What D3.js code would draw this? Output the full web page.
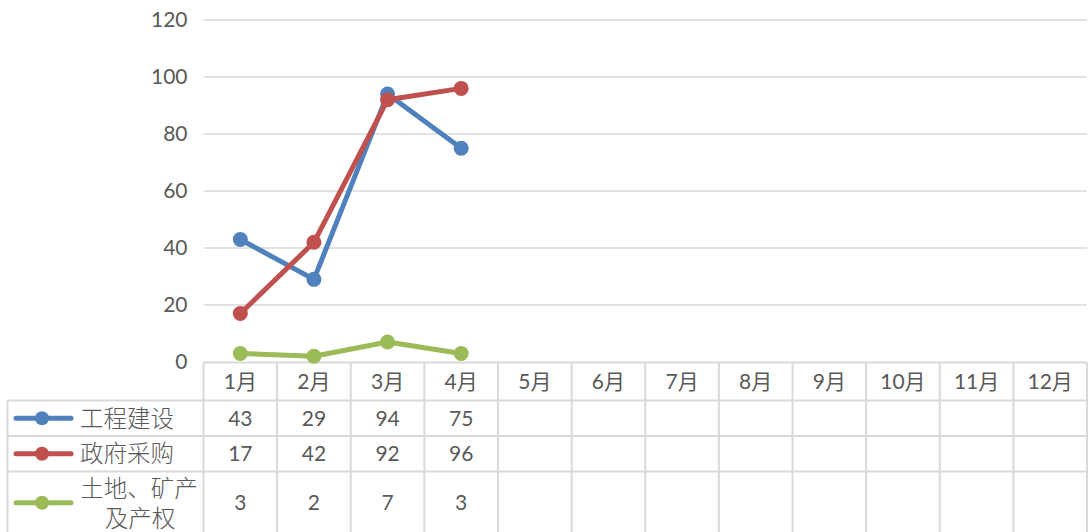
<!DOCTYPE html>
<html>
<head>
<meta charset="utf-8">
<script src="https://cdn.jsdelivr.net/npm/d3@7"></script>
<style>
  body { margin: 0; background: #fff; }
  svg text { font-family: Lato, "Noto Sans CJK SC", sans-serif; fill: #595959; }
</style>
</head>
<body>
<div id="chart"></div>
<script>
// Chart data
const months = ['1月', '2月', '3月', '4月', '5月', '6月', '7月', '8月', '9月', '10月', '11月', '12月'];
const seriesNames = ['工程建设', '政府采购', '土地、矿产及产权'];
const engineering = [43, 29, 94, 75];
const procurement = [17, 42, 92, 96];
const landMining = [3, 2, 7, 3];
const yTicks = [0, 20, 40, 60, 80, 100, 120];

const seriesColors = ['#4f81bd', '#c0504d', '#9bbb59'];
const seriesValues = [engineering, procurement, landMining];

const width = 1090, height = 532;
const plotLeft = 203.5, plotRight = 1087, plotTop = 20, plotBottom = 362;

const svg = d3.select('#chart')
    .append('svg')
    .attr('width', width)
    .attr('height', height);

// Scales
const xScale = d3.scaleBand()
    .domain(months)
    .range([plotLeft, plotRight])
    .padding(0);

const yScale = d3.scaleLinear()
    .domain([0, 120])
    .range([plotBottom, plotTop]);

// Gridlines
svg.append('g')
    .selectAll('line')
    .data(yTicks.filter(d => d > 0))
    .enter()
    .append('line')
    .attr('x1', plotLeft)
    .attr('x2', plotRight)
    .attr('y1', d => yScale(d))
    .attr('y2', d => yScale(d))
    .attr('stroke', '#d9d9d9')
    .attr('stroke-width', 1.5);

// Y axis labels
const yAxis = svg.append('g')
    .attr('transform', `translate(${plotLeft}, 0)`)
    .call(d3.axisLeft(yScale).tickValues(yTicks).tickSize(0).tickPadding(16));
yAxis.select('.domain').remove();
yAxis.selectAll('text')
    .style('font-size', '21px')
    .style('font-family', 'Lato, sans-serif')
    .attr('fill', '#595959');

// Data table
const rowTops = [362.5, 400.5, 436, 471.5];
const tableLeft = 7.5;
const gridColor = '#d9d9d9';
const table = svg.append('g');

// horizontal lines
rowTops.forEach((y, i) => {
    table.append('line')
        .attr('x1', i === 0 ? plotLeft : tableLeft)
        .attr('x2', plotRight)
        .attr('y1', y).attr('y2', y)
        .attr('stroke', gridColor)
        .attr('stroke-width', 2);
});

// vertical lines
const colEdges = months.map(m => xScale(m)).concat([plotRight]);
colEdges.forEach(x => {
    table.append('line')
        .attr('x1', x).attr('x2', x)
        .attr('y1', rowTops[0]).attr('y2', height)
        .attr('stroke', gridColor)
        .attr('stroke-width', 2);
});
table.append('line')
    .attr('x1', tableLeft).attr('x2', tableLeft)
    .attr('y1', rowTops[1]).attr('y2', height)
    .attr('stroke', gridColor)
    .attr('stroke-width', 2);

// header labels
table.selectAll('.month-label')
    .data(months)
    .enter()
    .append('text')
    .attr('class', 'month-label')
    .attr('text-anchor', 'middle')
    .attr('x', d => xScale(d) + xScale.bandwidth() / 2)
    .attr('y', (rowTops[0] + rowTops[1]) / 2 + 7.5)
    .style('font-size', '21px')
    .text(d => d);

// series rows
seriesValues.forEach((vals, si) => {
    const top = rowTops[si + 1];
    const bottom = si === 2 ? 534 : rowTops[si + 2];
    const mid = (top + bottom) / 2;

    // legend key
    table.append('line')
        .attr('x1', 16).attr('x2', 71)
        .attr('y1', mid).attr('y2', mid)
        .attr('stroke', seriesColors[si])
        .attr('stroke-width', 5)
        .attr('stroke-linecap', 'round');
    table.append('circle')
        .attr('cx', 42).attr('cy', mid)
        .attr('r', 7)
        .attr('fill', seriesColors[si]);

    // legend label
    if (si === 2) {
        const lbl = table.append('text')
            .attr('text-anchor', 'middle')
            .style('font-size', '23.5px')
            .style('font-weight', 300);
        lbl.append('tspan').attr('x', 139).attr('y', mid - 6).text('土地、矿产');
        lbl.append('tspan').attr('x', 140).attr('y', mid + 24).text('及产权');
    } else {
        table.append('text')
            .attr('x', 80)
            .attr('y', mid + 8.5)
            .style('font-size', '23.5px')
            .style('font-weight', 300)
            .text(seriesNames[si]);
    }

    // values
    table.selectAll('.val-' + si)
        .data(vals)
        .enter()
        .append('text')
        .attr('class', 'val-' + si)
        .attr('text-anchor', 'middle')
        .attr('x', (d, i) => xScale(months[i]) + xScale.bandwidth() / 2)
        .attr('y', mid + 7.5)
        .style('font-size', '21px')
        .text(d => d);
});

// Lines and markers
const line = d3.line()
    .x((d, i) => xScale(months[i]) + xScale.bandwidth() / 2)
    .y(d => yScale(d));

seriesValues.forEach((vals, si) => {
    const g = svg.append('g');
    g.append('path')
        .datum(vals)
        .attr('d', line)
        .attr('fill', 'none')
        .attr('stroke', seriesColors[si])
        .attr('stroke-width', 5)
        .attr('stroke-linejoin', 'round');
    g.selectAll('circle')
        .data(vals)
        .enter()
        .append('circle')
        .attr('cx', (d, i) => xScale(months[i]) + xScale.bandwidth() / 2)
        .attr('cy', d => yScale(d))
        .attr('r', 7.5)
        .attr('fill', seriesColors[si]);
});
</script>
</body>
</html>
